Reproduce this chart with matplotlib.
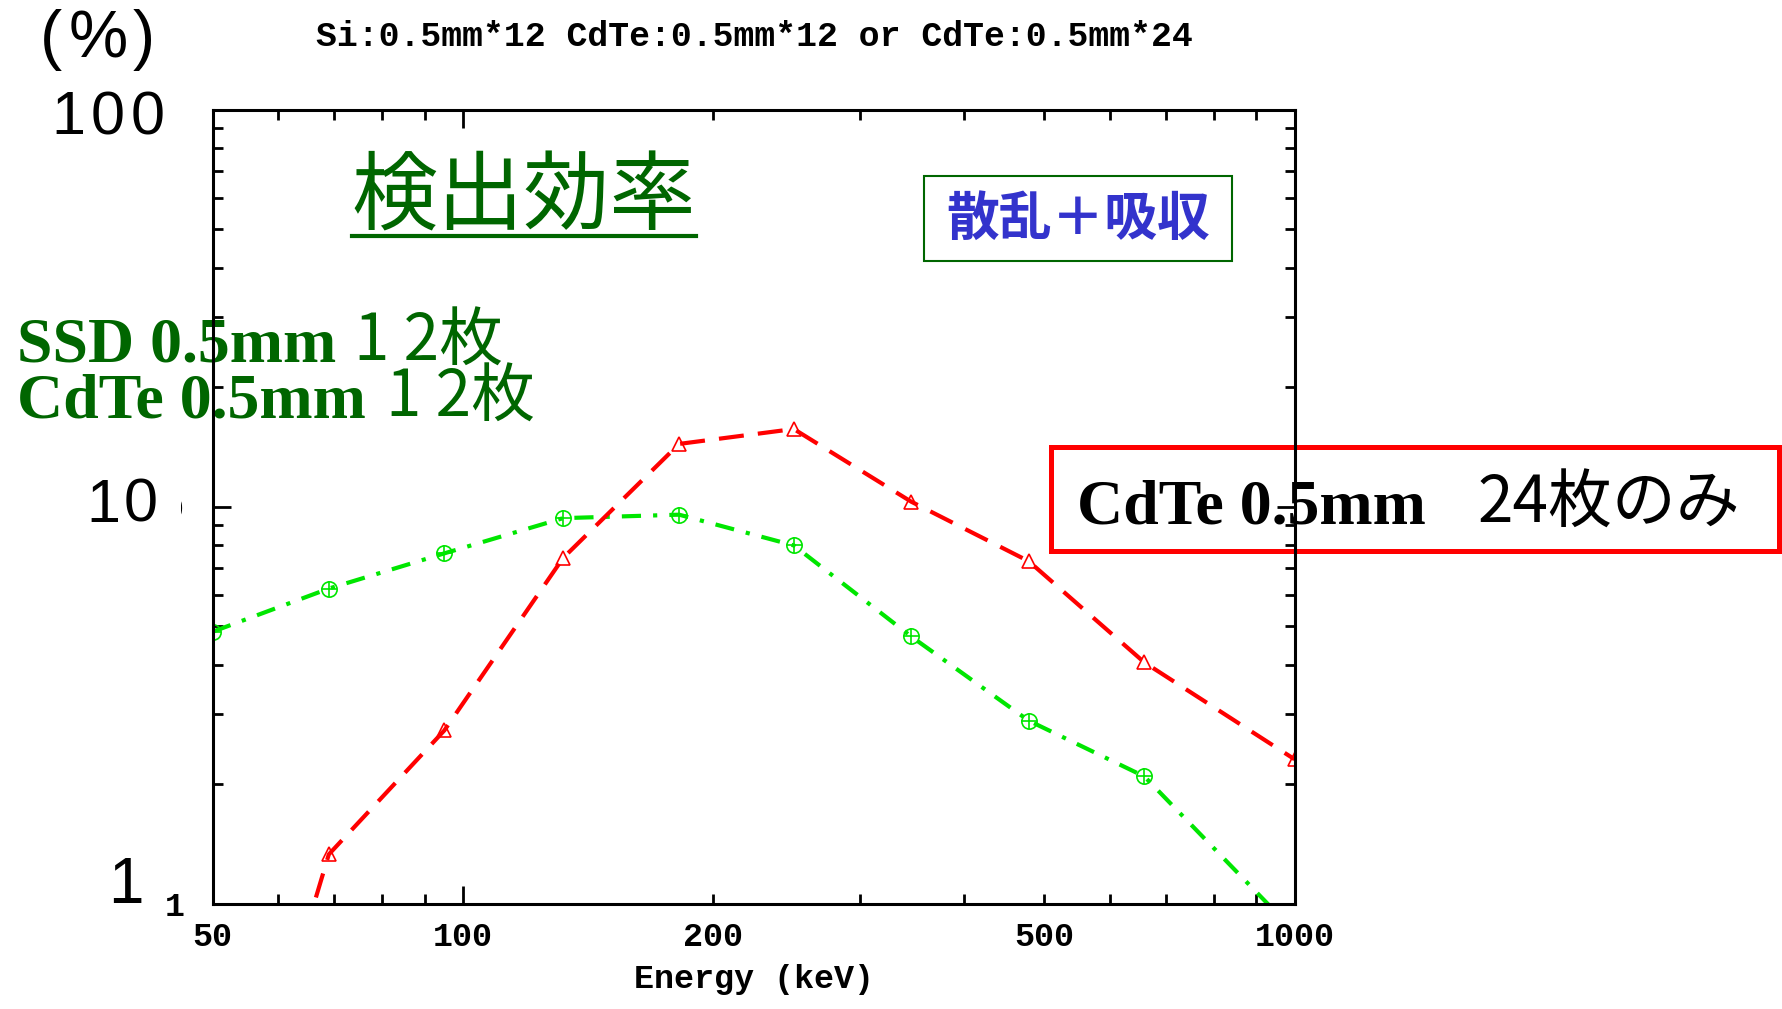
import matplotlib
matplotlib.use('Agg')
import matplotlib.pyplot as plt
from matplotlib.patches import Rectangle
from matplotlib.lines import Line2D
from matplotlib.ticker import FixedLocator, FixedFormatter

plt.rcParams['font.family'] = ['Liberation Mono', 'DejaVu Sans']
plt.rcParams['font.weight'] = 'bold'
plt.rcParams['axes.labelweight'] = 'bold'

# detection efficiency (%) vs photon energy (keV)
energy = [50, 69, 95, 132, 182, 250, 346, 479, 660, 1000]
eff_si_cdte12 = [4.84, 6.22, 7.63, 9.36, 9.55, 7.99, 4.71, 2.89, 2.09, 0.85]
eff_cdte24 = [0.14, 1.33, 2.73, 7.43, 14.4, 15.7, 10.3, 7.29, 4.05, 2.31]

x_major = [100, 1000]
x_major_labels = ['100', '1000']
x_minor = [50, 60, 70, 80, 90, 200, 300, 400, 500, 600, 700, 800, 900]
x_minor_labels = ['50', '', '', '', '', '200', '', '', '500', '', '', '', '']
y_major = [1, 10, 100]
y_major_labels = ['1', '10', '100']
y_minor = [2, 3, 4, 5, 6, 7, 8, 9, 20, 30, 40, 50, 60, 70, 80, 90]

title = 'Si:0.5mm*12 CdTe:0.5mm*12 or CdTe:0.5mm*24'
xlabel = 'Energy (keV)'

W, H = 1782, 1009
fx = lambda x: x / W
fy = lambda y: 1 - y / H

GREEN_TXT = '#006600'
GREEN_LN = '#00e600'
JP = 'Noto Sans CJK JP'


def spaced_text(fig, chars, centers, y, **kw):
    # one glyph per position, for the wide-set slide labels
    for ch, cx in zip(chars, centers):
        fig.text(fx(cx), fy(y), ch, ha='center', va='center', **kw)


fig = plt.figure(figsize=(W / 100, H / 100), dpi=100)
fig.patch.set_facecolor('white')
ax = fig.add_axes([fx(212.5), fy(903.5), 1082 / W, 793.5 / H])
ax.set_facecolor('none')
ax.set_xscale('log')
ax.set_yscale('log')
ax.set_xlim(50, 1000)
ax.set_ylim(1, 100)

ax.plot(energy, eff_si_cdte12, color=GREEN_LN, lw=3, dashes=(4.6, 2.9, 1.0, 2.9),
        marker='o', ms=11, mfc='none', mec=GREEN_LN, mew=1.2)
ax.plot(energy, eff_si_cdte12, ls='none', marker='+', ms=11, mec=GREEN_LN, mew=1.2)
ax.plot(energy, eff_cdte24, color='#ff0000', lw=3, dashes=(6, 3.4),
        marker='^', ms=10, mfc='none', mec='#ff0000', mew=1.2)

ax.xaxis.set_major_locator(FixedLocator(x_major))
ax.xaxis.set_major_formatter(FixedFormatter(x_major_labels))
ax.xaxis.set_minor_locator(FixedLocator(x_minor))
ax.xaxis.set_minor_formatter(FixedFormatter(x_minor_labels))
ax.yaxis.set_major_locator(FixedLocator(y_major))
ax.yaxis.set_major_formatter(FixedFormatter(y_major_labels))
ax.yaxis.set_minor_locator(FixedLocator(y_minor))
ax.yaxis.set_minor_formatter(FixedFormatter([''] * len(y_minor)))

ax.tick_params(which='both', direction='in', top=True, right=True, width=2, labelsize=24)
ax.tick_params(which='major', length=13)
ax.tick_params(which='minor', length=7)
ax.tick_params(axis='x', which='both', pad=13)
ax.tick_params(axis='y', which='both', pad=20)
for s in ax.spines.values():
    s.set_linewidth(2.2)

ax.set_xlabel(xlabel, fontsize=24, fontweight='bold', va='center')
ax.xaxis.set_label_coords(0.5, -0.0964)

fig.text(fx(754), fy(36), title, size=25, ha='center', va='center')

# large axis labels on top of the original ones
fig.add_artist(Rectangle((0, fy(135)), 192 / W, 45 / H, transform=fig.transFigure,
                         fc='white', ec='none', zorder=5))
fig.add_artist(Rectangle((0, fy(530)), 181 / W, 50 / H, transform=fig.transFigure,
                         fc='white', ec='none', zorder=5))
big = dict(family='Liberation Sans', weight='normal', zorder=6)
spaced_text(fig, '(%)', [51, 98, 144], 40, size=48, **big)
spaced_text(fig, '100', [68, 108, 148], 119, size=44, **big)
spaced_text(fig, '10', [103, 141], 506, size=44, **big)
spaced_text(fig, '1', [126], 886, size=46, **big)

# heading
fig.text(fx(524), fy(199), '検出効率', family=JP, weight='normal', size=62,
         color=GREEN_TXT, ha='center', va='center')
fig.add_artist(Line2D([fx(352), fx(696)], [fy(236), fy(236)], transform=fig.transFigure,
                      color=GREEN_TXT, lw=3))

fig.add_artist(Rectangle((fx(924), fy(261)), 308 / W, 85 / H, transform=fig.transFigure,
                         fc='white', ec=GREEN_TXT, lw=1.5))
fig.text(fx(1078), fy(219), '散乱＋吸収', family=JP, weight='bold', size=38,
         color='#3333cc', ha='center', va='center')

# detector labels
for txt, x0, xj, yb in [('SSD 0.5mm', 17, 353.5, 361), ('CdTe 0.5mm', 17, 386.5, 417)]:
    fig.text(fx(x0), fy(yb), txt, family='Liberation Serif', weight='bold', size=46,
             color=GREEN_TXT, ha='left', va='baseline', zorder=-1)
    fig.text(fx(xj), fy(yb), '1 2枚', family=JP, weight='normal', size=46,
             color=GREEN_TXT, ha='left', va='baseline', zorder=-1)

fig.add_artist(Rectangle((fx(1051), fy(551)), 728 / W, 104 / H, transform=fig.transFigure,
                         fill=False, ec='#ff0000', lw=3.6, zorder=-1))
fig.text(fx(1077), fy(523), 'CdTe 0.5mm', family='Liberation Serif', weight='bold', size=46,
         color='black', ha='left', va='baseline', zorder=-1)
fig.text(fx(1477), fy(523), '24枚のみ', family=JP, weight='normal', size=46,
         color='black', ha='left', va='baseline', zorder=-1)

fig.savefig('out.png', dpi=100)
